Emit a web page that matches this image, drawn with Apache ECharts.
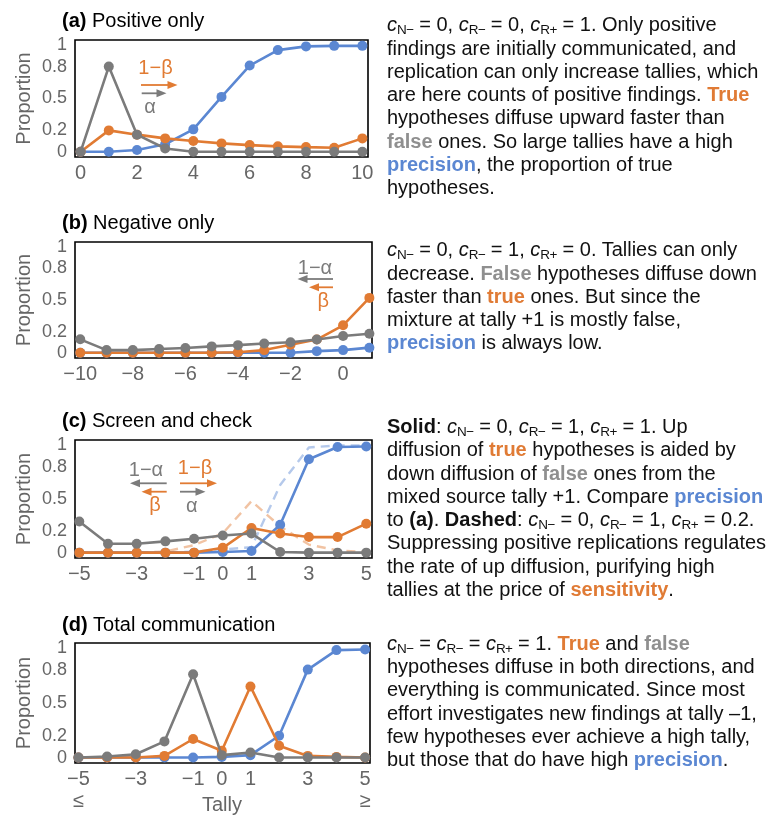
<!DOCTYPE html>
<html>
<head>
<meta charset="utf-8">
<script src="https://cdn.jsdelivr.net/npm/echarts@6/dist/echarts.min.js"></script>
<style>
  html, body { margin: 0; padding: 0; background: #fff; }
  #wrap { position: relative; width: 778px; height: 828px; overflow: hidden; }
  #chart { position: absolute; left: 0; top: 0; width: 778px; height: 828px; }
  .para {
    position: absolute; left: 387px; white-space: nowrap;
    font-family: "Liberation Sans", Arial, Helvetica, sans-serif;
    font-size: 20px; line-height: 23.3px; color: #111;
  }
  .para b { font-weight: bold; }
  .c { font-style: italic; }
  .c sub { font-style: normal; font-size: 13.5px; vertical-align: -3px; line-height: 0; letter-spacing: -0.5px; }
  .t { color: #e07b35; font-weight: bold; }
  .f { color: #8f8f8f; font-weight: bold; }
  .p { color: #5b87d2; font-weight: bold; }
</style>
</head>
<body>
<div id="wrap">
  <div id="chart"></div>

  <div class="para" style="top:13.3px">
    <span class="c">c<sub>N−</sub></span> = 0, <span class="c">c<sub>R−</sub></span> = 0, <span class="c">c<sub>R+</sub></span> = 1. Only positive<br>
    findings are initially communicated, and<br>
    replication can only increase tallies, which<br>
    are here counts of positive findings. <span class="t">True</span><br>
    hypotheses diffuse upward faster than<br>
    <span class="f">false</span> ones. So large tallies have a high<br>
    <span class="p">precision</span>, the proportion of true<br>
    hypotheses.
  </div>

  <div class="para" style="top:238.3px">
    <span class="c">c<sub>N−</sub></span> = 0, <span class="c">c<sub>R−</sub></span> = 1, <span class="c">c<sub>R+</sub></span> = 0. Tallies can only<br>
    decrease. <span class="f">False</span> hypotheses diffuse down<br>
    faster than <span class="t">true</span> ones. But since the<br>
    mixture at tally +1 is mostly false,<br>
    <span class="p">precision</span> is always low.
  </div>

  <div class="para" style="top:415px">
    <b>Solid</b>: <span class="c">c<sub>N−</sub></span> = 0, <span class="c">c<sub>R−</sub></span> = 1, <span class="c">c<sub>R+</sub></span> = 1. Up<br>
    diffusion of <span class="t">true</span> hypotheses is aided by<br>
    down diffusion of <span class="f">false</span> ones from the<br>
    mixed source tally +1. Compare <span class="p">precision</span><br>
    to <b>(a)</b>. <b>Dashed</b>: <span class="c">c<sub>N−</sub></span> = 0, <span class="c">c<sub>R−</sub></span> = 1, <span class="c">c<sub>R+</sub></span> = 0.2.<br>
    Suppressing positive replications regulates<br>
    the rate of up diffusion, purifying high<br>
    tallies at the price of <span class="t">sensitivity</span>.
  </div>

  <div class="para" style="top:631.7px">
    <span class="c">c<sub>N−</sub></span> = <span class="c">c<sub>R−</sub></span> = <span class="c">c<sub>R+</sub></span> = 1. <span class="t">True</span> and <span class="f">false</span><br>
    hypotheses diffuse in both directions, and<br>
    everything is communicated. Since most<br>
    effort investigates new findings at tally –1,<br>
    few hypotheses ever achieve a high tally,<br>
    but those that do have high <span class="p">precision</span>.
  </div>
</div>

<script>
const FONT = '"Liberation Sans", Arial, Helvetica, sans-serif';
const GRAY = '#7b7b7b';
const ORANGE = '#e17b33';
const BLUE = '#5b87d2';
const LABEL = '#666666';

// (a) positive only
const tallyA = [0, 1, 2, 3, 4, 5, 6, 7, 8, 9, 10];
const grayA = [0, 0.8, 0.16, 0.03, 0, 0, 0, 0, 0, 0, 0];
const orangeA = [0, 0.2, 0.16, 0.125, 0.1, 0.078, 0.062, 0.05, 0.043, 0.037, 0.125];
const blueA = [0, 0, 0.016, 0.07, 0.21, 0.515, 0.81, 0.955, 0.99, 0.995, 0.995];

// (b) negative only
const tallyB = [-10, -9, -8, -7, -6, -5, -4, -3, -2, -1, 0, 1];
const grayB = [0.127, 0.025, 0.025, 0.035, 0.045, 0.06, 0.072, 0.087, 0.1, 0.125, 0.158, 0.18];
const orangeB = [0, 0, 0, 0, 0, 0, 0.005, 0.025, 0.075, 0.125, 0.26, 0.52];
const blueB = [0, 0, 0, 0, 0, 0, 0, 0, 0, 0.015, 0.025, 0.048];

// (c) screen and check (solid + dashed)
const tallyC = [-5, -4, -3, -2, -1, 0, 1, 2, 3, 4, 5];
const grayC = [0.29, 0.083, 0.083, 0.105, 0.13, 0.16, 0.178, 0.006, 0, 0, 0];
const orangeC = [0, 0, 0, 0, 0, 0.045, 0.23, 0.178, 0.145, 0.145, 0.27];
const blueC = [0, 0, 0, 0, 0, 0.006, 0.015, 0.26, 0.87, 0.985, 0.99];
const orangeCDashed = [0, 0, 0, 0.01, 0.07, 0.18, 0.48, 0.245, 0.075, 0.02, 0.006];
const blueCDashed = [0, 0, 0, 0, 0.01, 0.03, 0.05, 0.63, 0.98, 1, 1];

// (d) total communication
const tallyD = [-5, -4, -3, -2, -1, 0, 1, 2, 3, 4, 5];
const grayD = [0, 0.01, 0.03, 0.148, 0.763, 0.022, 0.046, 0, 0, 0, 0];
const orangeD = [0, 0, 0, 0.015, 0.17, 0.062, 0.652, 0.108, 0.015, 0.006, 0];
const blueD = [0, 0, 0, 0, 0, 0.006, 0.022, 0.2, 0.806, 0.985, 0.99];

const yTicks = [0, 0.2, 0.5, 0.8, 1];
const xTicksA = [0, 2, 4, 6, 8, 10];
const xTicksB = [-10, -8, -6, -4, -2, 0];
const xTicksCD = [-5, -3, -1, 0, 1, 3, 5];

const zip = (xs, ys) => xs.map((x, i) => [x, ys[i]]);
const fmtX = (v) => (v < 0 ? '\u2212' + Math.abs(v) : String(v));

const panels = [
  { box: { left: 75, top: 40, width: 293, height: 117 }, xMin: -0.2, xMax: 10.2, ticks: xTicksA, x: tallyA, gray: grayA, orange: orangeA, blue: blueA },
  { box: { left: 75, top: 242, width: 297, height: 116 }, xMin: -10.2, xMax: 1.1, ticks: xTicksB, x: tallyB, gray: grayB, orange: orangeB, blue: blueB },
  { box: { left: 75, top: 440, width: 297, height: 118 }, xMin: -5.15, xMax: 5.2, ticks: xTicksCD, x: tallyC, gray: grayC, orange: orangeC, blue: blueC,
    dashed: [{ y: blueCDashed, color: BLUE }, { y: orangeCDashed, color: ORANGE }] },
  { box: { left: 75, top: 643, width: 295, height: 120 }, xMin: -5.12, xMax: 5.17, ticks: xTicksCD, x: tallyD, gray: grayD, orange: orangeD, blue: blueD },
];

const grid = [], xAxis = [], yAxis = [], series = [];
panels.forEach((p, i) => {
  grid.push({ ...p.box, show: true, borderColor: '#000', borderWidth: 1.6, backgroundColor: 'transparent', outerBoundsMode: 'none' });
  xAxis.push({
    type: 'value', gridIndex: i, min: p.xMin, max: p.xMax,
    axisLine: { show: false }, axisTick: { show: false }, splitLine: { show: false },
    axisLabel: { customValues: p.ticks, formatter: fmtX, color: LABEL, fontSize: 20, fontFamily: FONT, margin: 6 },
  });
  yAxis.push({
    type: 'value', gridIndex: i, min: -0.05, max: 1.05,
    axisLine: { show: false }, axisTick: { show: false }, splitLine: { show: false },
    axisLabel: { customValues: yTicks, formatter: (v) => String(v), color: LABEL, fontSize: 18, fontFamily: FONT, margin: 8 },
    name: 'Proportion', nameLocation: 'middle', nameGap: 41,
    nameTextStyle: { color: LABEL, fontSize: 20, fontFamily: FONT },
  });
  (p.dashed || []).forEach((d) => {
    series.push({
      type: 'line', xAxisIndex: i, yAxisIndex: i, data: zip(p.x, d.y), symbol: 'none', z: 1,
      lineStyle: { color: d.color, width: 2.4, type: [9, 6], opacity: 0.45 },
    });
  });
  [[p.blue, BLUE, 2], [p.orange, ORANGE, 3], [p.gray, GRAY, 4]].forEach(([ys, color, z]) => {
    series.push({
      type: 'line', xAxisIndex: i, yAxisIndex: i, data: zip(p.x, ys), z,
      symbol: 'circle', symbolSize: 10, showSymbol: true,
      lineStyle: { color, width: 2.6 }, itemStyle: { color },
    });
  });
});

// horizontal arrow with filled head at (x2, y)
function arrow(x1, x2, y, color) {
  const d = Math.sign(x2 - x1);
  return [
    { type: 'line', shape: { x1, y1: y, x2: x2 - d * 6, y2: y }, style: { stroke: color, lineWidth: 1.8 } },
    { type: 'polygon', shape: { points: [[x2, y], [x2 - d * 10, y - 4], [x2 - d * 10, y + 4]] }, style: { fill: color } },
  ];
}
function label(text, x, y, color, size, extra) {
  return { type: 'text', x, y, style: { text, fill: color, fontSize: size, fontFamily: FONT, align: 'center', verticalAlign: 'middle', ...extra } };
}
function title(tag, text, y) {
  return {
    type: 'text', x: 62, y,
    style: {
      text: '{b|' + tag + '} ' + text, fill: '#000', fontSize: 20, fontFamily: FONT, verticalAlign: 'middle',
      rich: { b: { fontWeight: 'bold', fontSize: 20, fontFamily: FONT, fill: '#000' } },
    },
  };
}

const graphic = [
  title('(a)', 'Positive only', 21.7),
  title('(b)', 'Negative only', 223.3),
  title('(c)', 'Screen and check', 421.7),
  title('(d)', 'Total communication', 625),
  // (a) arrows
  label('1\u2212\u03b2', 155.5, 68.7, ORANGE, 20),
  ...arrow(141, 177.5, 85, ORANGE),
  ...arrow(141.7, 166.5, 93.3, GRAY),
  label('\u03b1', 150, 107, GRAY, 20),
  // (b) arrows
  label('1\u2212\u03b1', 315, 268, GRAY, 20),
  ...arrow(333, 297.5, 279, GRAY),
  ...arrow(333, 309, 287.3, ORANGE),
  label('\u03b2', 323.3, 301.7, ORANGE, 20),
  // (c) arrows
  label('1\u2212\u03b1', 146, 470, GRAY, 20),
  ...arrow(166.7, 130, 483.3, GRAY),
  ...arrow(166.7, 141.5, 491.7, ORANGE),
  label('\u03b2', 155, 505, ORANGE, 20),
  label('1\u2212\u03b2', 195, 468.3, ORANGE, 20),
  ...arrow(180, 217, 483.3, ORANGE),
  ...arrow(180, 205.5, 491.7, GRAY),
  label('\u03b1', 191.7, 506, GRAY, 20),
  // (d) axis extras
  label('\u2264', 78.3, 801.7, LABEL, 20),
  label('\u2265', 365, 801.7, LABEL, 20),
  label('Tally', 222, 805, LABEL, 20),
];

const chart = echarts.init(document.getElementById('chart'), null, { renderer: 'canvas' });
chart.setOption({
  animation: false,
  backgroundColor: '#fff',
  textStyle: { fontFamily: FONT },
  grid, xAxis, yAxis, series, graphic,
});
</script>
</body>
</html>
